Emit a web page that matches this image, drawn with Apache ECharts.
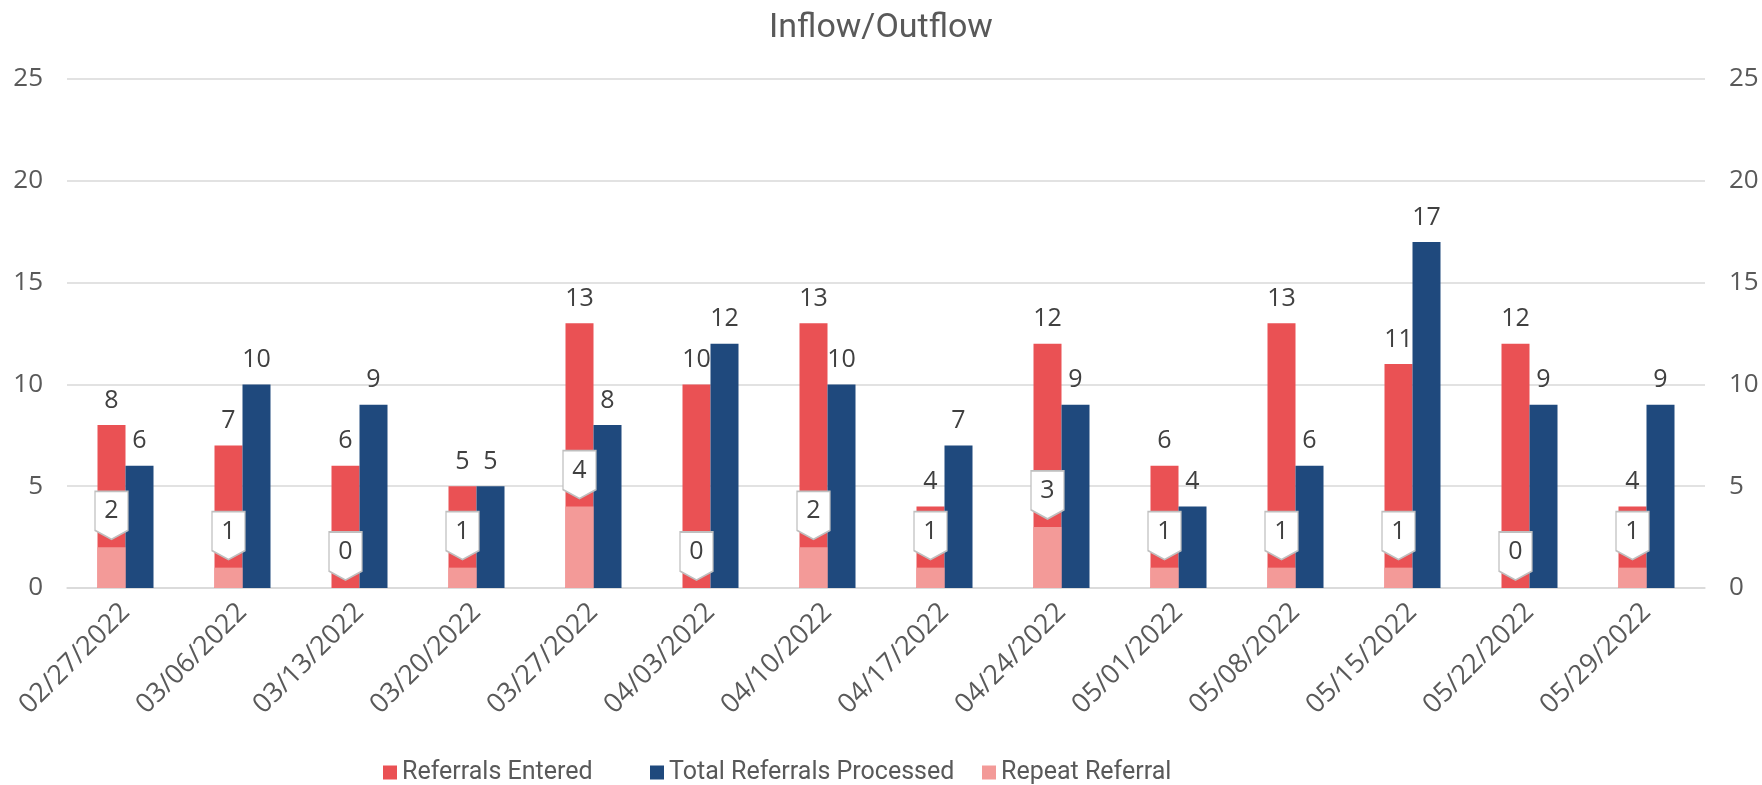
<!DOCTYPE html>
<html>
<head>
<meta charset="utf-8">
<script src="https://cdn.jsdelivr.net/npm/echarts@6/dist/echarts.min.js"></script>
<style>
  html, body { margin: 0; padding: 0; background: #fff; }
  #main { width: 1762px; height: 785px; }
</style>
</head>
<body>
<div id="main"></div>
<script>
// week labels
var weeks = ['02/27/2022', '03/06/2022', '03/13/2022', '03/20/2022', '03/27/2022', '04/03/2022', '04/10/2022',
  '04/17/2022', '04/24/2022', '05/01/2022', '05/08/2022', '05/15/2022', '05/22/2022', '05/29/2022'];
var entered = [8, 7, 6, 5, 13, 10, 13, 4, 12, 6, 13, 11, 12, 4];
var processed = [6, 10, 9, 5, 8, 12, 10, 7, 9, 4, 6, 17, 9, 9];
var repeat = [2, 1, 0, 1, 4, 0, 2, 1, 3, 1, 1, 1, 0, 1];

var NUM = 'Open Sans, sans-serif';
var TXTF = 'Roboto, sans-serif';
var TXT = '#595959';

var chart = echarts.init(document.getElementById('main'));

// callouts for repeat referral
var callouts = [];
for (var i = 0; i < repeat.length; i++) {
  callouts.push({ coord: [i, repeat[i]], value: repeat[i] });
}

function legendAt(name, x) {
  return {
    data: [name],
    top: 755,
    left: x,
    icon: 'rect',
    itemWidth: 14,
    itemHeight: 14,
    itemGap: 6,
    textStyle: { fontFamily: TXTF, fontSize: 25, color: TXT }
  };
}

var option = {
  animation: false,
  title: {
    text: 'Inflow/Outflow',
    left: 'center',
    top: 6,
    textStyle: { fontFamily: TXTF, fontSize: 34, fontWeight: 'normal', color: TXT }
  },
  legend: [
    legendAt('Referrals Entered', 378),
    legendAt('Total Referrals Processed', 645),
    legendAt('Repeat Referral', 977)
  ],
  grid: { left: 67, right: 57, top: 79, bottom: 197 },
  xAxis: [{
    type: 'category',
    data: weeks,
    axisLine: { lineStyle: { color: '#D9D9D9', width: 1.5 } },
    axisTick: { length: 8, lineStyle: { color: '#D9D9D9', width: 1.5 } },
    axisLabel: { rotate: 45, fontFamily: NUM, fontSize: 27, color: TXT, margin: 20 }
  }, {
    type: 'category',
    data: weeks,
    show: false
  }],
  yAxis: [{
    type: 'value',
    min: 0, max: 25, interval: 5,
    axisLine: { show: false },
    axisTick: { show: false },
    splitLine: { lineStyle: { color: '#D9D9D9', width: 1.5 } },
    axisLabel: { fontFamily: NUM, fontSize: 26, color: TXT, margin: 24 }
  }, {
    type: 'value',
    min: 0, max: 25, interval: 5,
    position: 'right',
    axisLine: { show: false },
    axisTick: { show: false },
    splitLine: { show: false },
    axisLabel: { fontFamily: NUM, fontSize: 26, color: TXT, margin: 24 }
  }],
  series: [{
    name: 'Referrals Entered',
    type: 'bar',
    xAxisIndex: 0,
    yAxisIndex: 0,
    data: entered,
    barWidth: 28,
    barGap: '0%',
    itemStyle: { color: '#EA5154' },
    label: { show: true, position: 'top', distance: 12, fontFamily: NUM, fontSize: 25, color: '#404040' }
  }, {
    name: 'Total Referrals Processed',
    type: 'bar',
    xAxisIndex: 0,
    yAxisIndex: 1,
    data: processed,
    barWidth: 28,
    itemStyle: { color: '#1F497D' },
    label: { show: true, position: 'top', distance: 12, fontFamily: NUM, fontSize: 25, color: '#404040' }
  }, {
    name: 'Repeat Referral',
    type: 'bar',
    xAxisIndex: 1,
    yAxisIndex: 0,
    data: repeat,
    barWidth: 28,
    barGap: '0%',
    itemStyle: { color: '#F39A98' },
    markPoint: {
      symbol: 'path://M0,0 L33,0 L33,39 L16.5,48 L0,39 Z',
      symbolSize: [33, 48],
      symbolOffset: [0, -32],
      itemStyle: { color: '#FFFFFF', borderColor: '#BFBFBF', borderWidth: 1.5 },
      label: { show: true, position: 'inside', offset: [0, -4], fontFamily: NUM, fontSize: 25, color: '#404040' },
      data: callouts
    }
  }, {
    name: 'spacer',
    type: 'bar',
    xAxisIndex: 1,
    yAxisIndex: 0,
    data: [],
    barWidth: 28
  }]
};

chart.setOption(option);
</script>
</body>
</html>
